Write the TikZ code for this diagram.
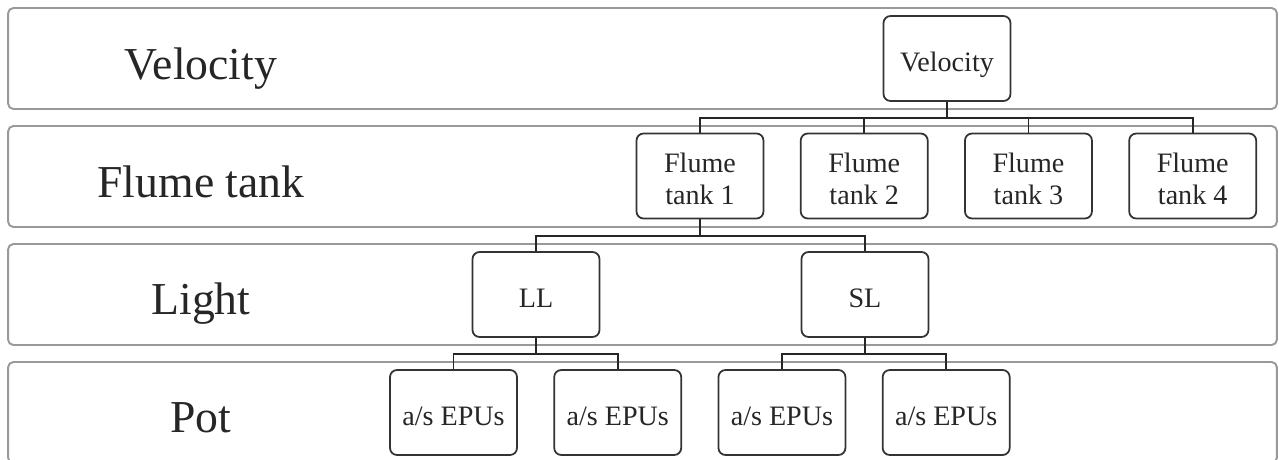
\documentclass[tikz,border=0pt]{standalone}
\usepackage{fontspec}
\setmainfont{Liberation Serif}
\usetikzlibrary{positioning}

\begin{document}
\begin{tikzpicture}[x=0.02cm, y=-0.02cm,
    band/.style={draw=gray!80, line width=1.1pt, rounded corners=3pt, minimum width=25.38cm, minimum height=2.02cm, inner sep=0pt},
    rowlabel/.style={anchor=base, font=\fontsize{26}{30}\selectfont, text=black!85},
    box/.style={draw=black!80, line width=1pt, rounded corners=4pt, minimum width=2.54cm, minimum height=1.7cm, inner sep=0pt, align=center, font=\fontsize{16}{17.8}\selectfont, text=black!85, text height=15pt, text depth=0pt},
    twobox/.style={box, text height=32pt, text depth=0pt},
    link/.style={draw=black!85, line width=1pt}]
    \useasboundingbox (0,0) rectangle (1279,460);
    % Rows
    \node[band] (rowvel) at (642.5,58.5) {};
    \node[band] (rowtank) at (642.5,176.5) {};
    \node[band] (rowlight) at (642.5,294.5) {};
    \node[band] (rowpot) at (642.5,412.5) {};
    % Row labels
    \node[rowlabel] (lblvel) at (201,79) {Velocity};
    \node[rowlabel] (lbltank) at (201,197) {Flume tank};
    \node[rowlabel] (lbllight) at (201,314) {Light};
    \node[rowlabel] (lblpot) at (201,432) {Pot};
    % Velocity
    \node[box] (vel) at (947,58.5) {Velocity};
    % Flume tanks
    \node[twobox] (tank1) at (700,176) {Flume\\tank 1};
    \node[twobox, right=0.71cm of tank1] (tank2) {Flume\\tank 2};
    \node[twobox, right=0.71cm of tank2] (tank3) {Flume\\tank 3};
    \node[twobox, right=0.71cm of tank3] (tank4) {Flume\\tank 4};
    % Light
    \node[box] (ll) at (536,294.5) {LL};
    \node[box] (sl) at (865,294.5) {SL};
    % Pots
    \node[box] (pot1) at (453.5,412.5) {a/s EPUs};
    \node[box, right=0.71cm of pot1] (pot2) {a/s EPUs};
    \node[box, right=0.71cm of pot2] (pot3) {a/s EPUs};
    \node[box, right=0.71cm of pot3] (pot4) {a/s EPUs};
    % Connectors
    \foreach \t in {tank1,tank2,tank3,tank4}
        \draw[link] (vel.south) -- ++(0,16) -| (\t.north);
    \foreach \t in {ll,sl}
        \draw[link] (tank1.south) -- ++(0,17) -| (\t.north);
    \foreach \t in {pot1,pot2}
        \draw[link] (ll.south) -- ++(0,16) -| (\t.north);
    \foreach \t in {pot3,pot4}
        \draw[link] (sl.south) -- ++(0,16) -| (\t.north);
\end{tikzpicture}
\end{document}
